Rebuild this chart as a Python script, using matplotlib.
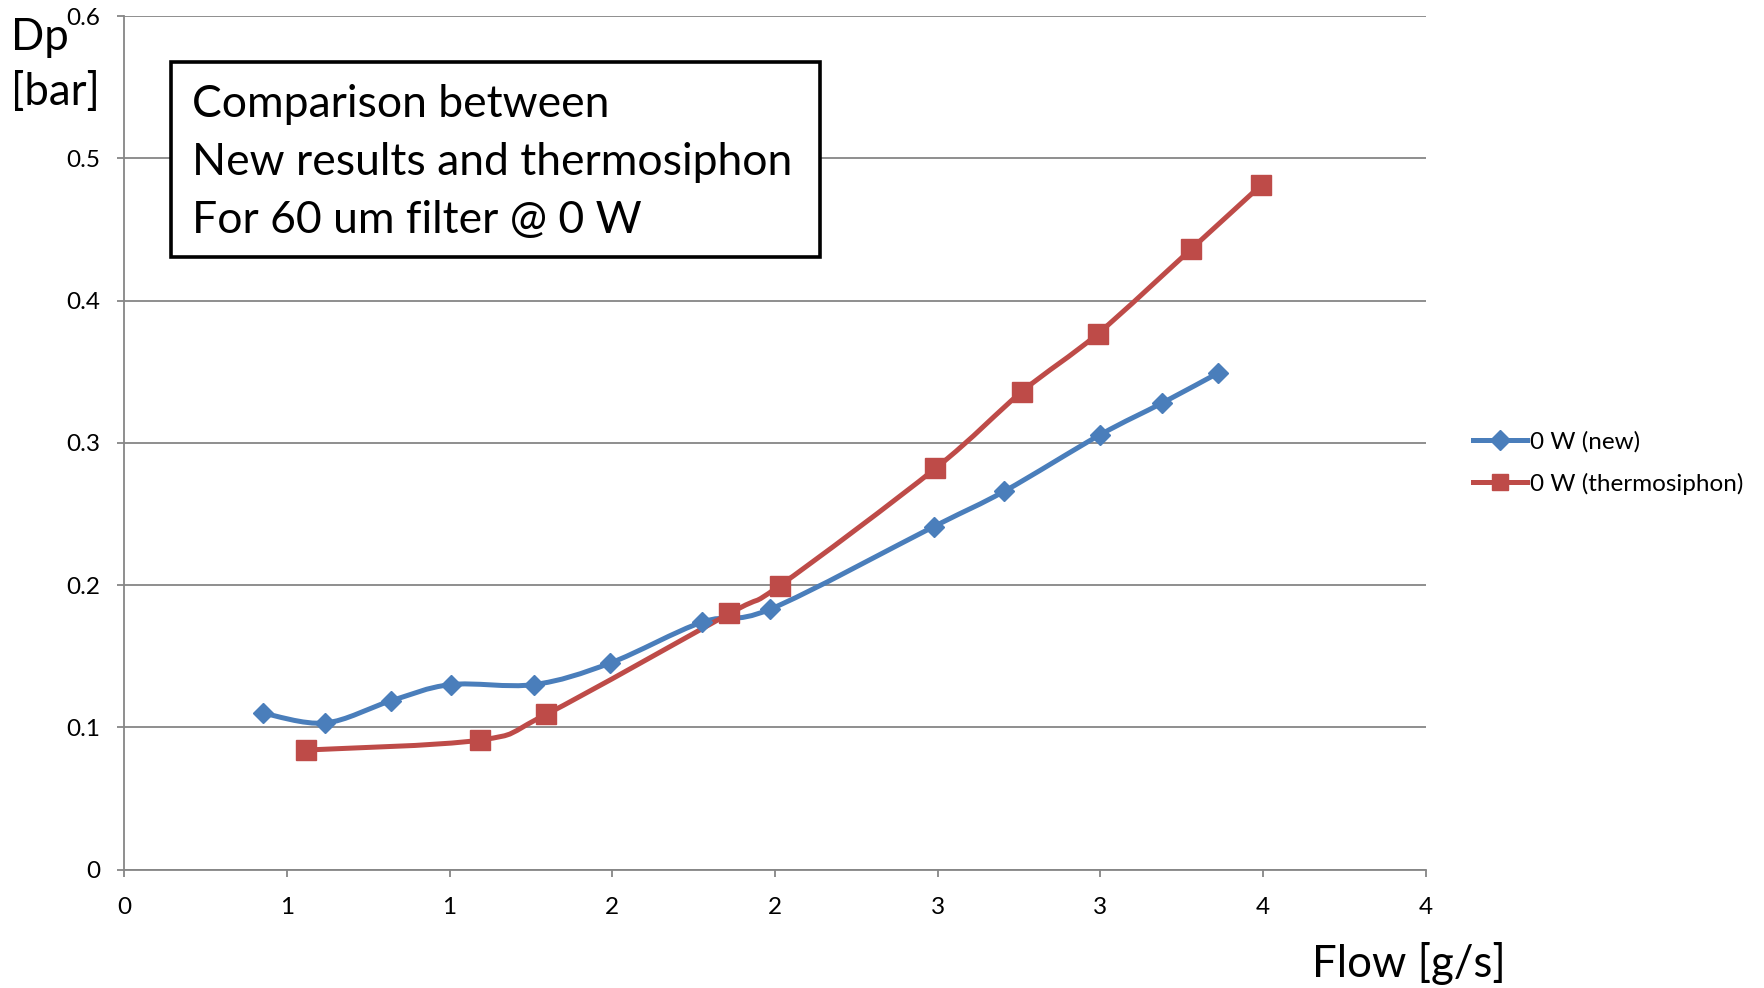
import numpy as np
import matplotlib
matplotlib.use('Agg')
import matplotlib.pyplot as plt
from matplotlib.path import Path
from matplotlib.patches import PathPatch, Rectangle
from matplotlib.lines import Line2D
from matplotlib.ticker import FixedLocator, FuncFormatter

plt.rcParams['font.family'] = ['Lato', 'DejaVu Sans']

# data
flow_new = [0.426, 0.617, 0.819, 1.003, 1.259, 1.492, 1.777, 1.985, 2.487, 2.705, 2.998, 3.190, 3.361]
dp_new = [0.110, 0.103, 0.1185, 0.130, 0.130, 0.145, 0.174, 0.183, 0.241, 0.266, 0.3055, 0.328, 0.349]

flow_thermo = [0.559, 1.093, 1.296, 1.860, 2.014, 2.493, 2.759, 2.991, 3.278, 3.493]
dp_thermo = [0.084, 0.091, 0.109, 0.180, 0.1995, 0.282, 0.336, 0.3765, 0.436, 0.481]

labels = ['0 W (new)', '0 W (thermosiphon)']
colors = ['#4A7EBB', '#BE4B48']

x_ticks = [0, 0.5, 1, 1.5, 2, 2.5, 3, 3.5, 4]
y_ticks = [0, 0.1, 0.2, 0.3, 0.4, 0.5, 0.6]

box_lines = ['Comparison between', 'New results and thermosiphon', 'For 60 um filter @ 0 W']


def smooth_path(xs, ys):
    # bezier path through the points, like excel's smoothed line
    p = np.column_stack([xs, ys])
    n = len(p)
    verts = [p[0]]
    codes = [Path.MOVETO]
    for i in range(n - 1):
        p0 = p[i - 1] if i > 0 else p[i]
        p3 = p[i + 2] if i + 2 < n else p[i + 1]
        c1 = p[i] + (p[i + 1] - p0) / 6.0
        c2 = p[i + 1] - (p3 - p[i]) / 6.0
        verts += [c1, c2, p[i + 1]]
        codes += [Path.CURVE4] * 3
    return Path(verts, codes)


fig = plt.figure(figsize=(17.65, 9.88), dpi=100)
ax = fig.add_axes([0.0703, 0.1199, 0.8079 - 0.0703, 0.9838 - 0.1199])

grey = '#868686'
lw = 3.6

ax.plot(flow_new, dp_new, linestyle='none', marker='D', ms=10.5, color=colors[0], zorder=4)
ax.add_patch(PathPatch(smooth_path(flow_new, dp_new), fill=False, edgecolor=colors[0],
                       lw=lw, capstyle='round', zorder=3))
ax.plot(flow_thermo, dp_thermo, linestyle='none', marker='s', ms=14, color=colors[1], zorder=4)
ax.add_patch(PathPatch(smooth_path(flow_thermo, dp_thermo), fill=False, edgecolor=colors[1],
                       lw=lw, capstyle='round', zorder=3))

ax.set_xlim(0, 4)
ax.set_ylim(0, 0.6)
ax.xaxis.set_major_locator(FixedLocator(x_ticks))
ax.yaxis.set_major_locator(FixedLocator(y_ticks))
ax.xaxis.set_major_formatter(FuncFormatter(lambda v, pos: '%d' % int(np.floor(v + 0.5))))
ax.yaxis.set_major_formatter(FuncFormatter(lambda v, pos: '0' if v == 0 else '%.1f' % v))

ax.grid(axis='y', color=grey, lw=1.3)
ax.set_axisbelow(True)
for s in ['top', 'right']:
    ax.spines[s].set_visible(False)
for s in ['left', 'bottom']:
    ax.spines[s].set_color(grey)
    ax.spines[s].set_linewidth(1.3)
ax.tick_params(axis='both', direction='out', length=5, width=1.3, color=grey,
               labelsize=17.5, labelcolor='black')
ax.tick_params(axis='y', pad=12)
ax.tick_params(axis='x', pad=15)

# axis titles
fig.text(11 / 1765, 1 - 50 / 988, 'Dp', fontsize=31.5, ha='left', va='baseline')
fig.text(11 / 1765, 1 - 105 / 988, '[bar]', fontsize=31.5, ha='left', va='baseline')
fig.text(1409 / 1765, 1 - 977 / 988, 'Flow [g/s]', fontsize=31.5, ha='center', va='baseline')

# annotation box
fig.patches.append(Rectangle((171 / 1765, 1 - 257 / 988), 649 / 1765, 195 / 988,
                             transform=fig.transFigure, facecolor='white',
                             edgecolor='black', lw=2.6, zorder=5))
for i, t in enumerate(box_lines):
    fig.text(192 / 1765, 1 - (117 + 58 * i) / 988, t, fontsize=32, ha='left',
             va='baseline', zorder=6)

# legend
handles = [Line2D([], [], color=colors[0], lw=lw, marker='D', ms=10.5),
           Line2D([], [], color=colors[1], lw=lw, marker='s', ms=11)]
fig.legend(handles, labels, loc='center left', bbox_to_anchor=(1463 / 1765, 1 - 463 / 988),
           frameon=False, fontsize=17.5, handlelength=2.23, handletextpad=0.12,
           labelspacing=0.82, borderaxespad=0)

fig.savefig('out.png', dpi=100)
